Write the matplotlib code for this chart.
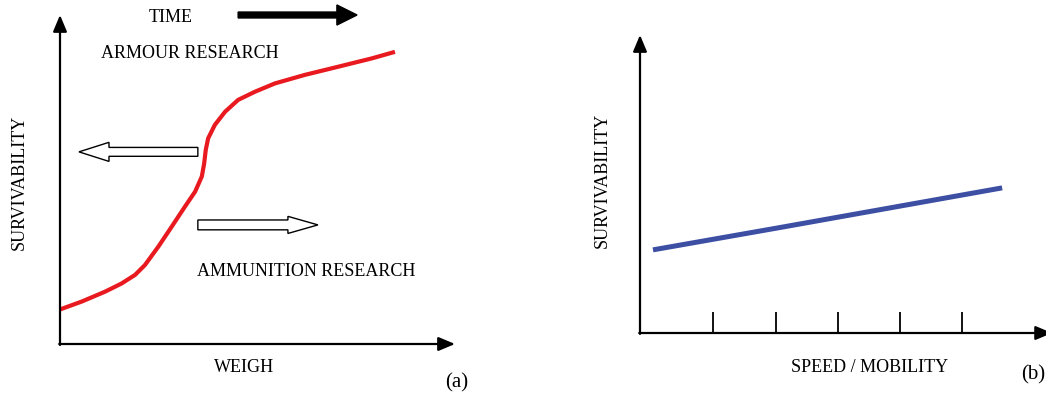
import matplotlib
matplotlib.use("Agg")
import matplotlib.pyplot as plt
from matplotlib.patches import FancyArrow

plt.rcParams["font.family"] = ["Liberation Serif", "DejaVu Serif"]

# panel (a): survivability vs weigh (schematic, 0..100 units)
weigh = [0, 5.5, 11.4, 15.6, 19.0, 21.5, 24.9, 28.3, 31.6, 34.2, 35.9, 36.5, 36.9,
         37.5, 39.2, 41.8, 45.1, 49.4, 54.4, 62.0, 70.5, 78.9, 84.8]
surv_a = [10.5, 12.9, 15.9, 18.4, 21.0, 24.0, 29.6, 35.7, 41.7, 46.3, 50.9, 54.9, 59.0,
          62.5, 66.6, 70.6, 74.2, 76.7, 79.2, 81.8, 84.3, 86.8, 88.8]

# panel (b): survivability vs speed / mobility
speed = [3.2, 34.5, 89.2]
surv_b = [27.9, 35.4, 48.7]
speed_ticks = [18.0, 33.5, 48.8, 64.0, 79.3]

W, H = 1046, 394
fig = plt.figure(figsize=(W / 100, H / 100), dpi=100)


def px(x, y):
    return x / W, 1 - y / H


def make_axes(left, top, right, bottom):
    ax = fig.add_axes([left / W, 1 - bottom / H, (right - left) / W, (bottom - top) / H])
    ax.set_xlim(0, 100)
    ax.set_ylim(0, 100)
    ax.axis("off")
    return ax


def axis_arrows(ax, xtip, ytip):
    style = "-|>,head_length=1.0,head_width=0.42"
    kw = dict(arrowstyle=style, lw=1.6, color="black", shrinkA=0, shrinkB=0)
    ax.annotate("", xy=(0, ytip), xytext=(0, -0.3), arrowprops=kw, annotation_clip=False)
    ax.annotate("", xy=(xtip, 0), xytext=(-0.2, 0), arrowprops=kw, annotation_clip=False)


# ---------------- panel (a) ----------------
axa = make_axes(60, 15, 455, 344)
axis_arrows(axa, 100, 100)
axa.plot(weigh, surv_a, color="#e8191f", lw=3.0, solid_capstyle="butt", solid_joinstyle="round")

# time arrow (black, filled)
axa.add_patch(FancyArrow(45.1, 100, 25.0, 0, width=1.8, head_width=6.1, head_length=5.1,
                         length_includes_head=False, color="black", clip_on=False))
# hollow arrows
axa.add_patch(FancyArrow(34.9, 58.4, -30.1, 0, width=2.7, head_width=5.8, head_length=7.6,
                         length_includes_head=True, facecolor="white", edgecolor="black",
                         lw=1.0, clip_on=False))
axa.add_patch(FancyArrow(34.9, 36.2, 30.4, 0, width=3.0, head_width=5.2, head_length=7.6,
                         length_includes_head=True, facecolor="white", edgecolor="black",
                         lw=1.0, clip_on=False))

fs = 13
fig.text(*px(171, 18), "TIME", fontsize=fs, ha="center", va="center")
fig.text(*px(190, 53), "ARMOUR RESEARCH", fontsize=fs, ha="center", va="center")
fig.text(*px(306, 271), "AMMUNITION RESEARCH", fontsize=fs, ha="center", va="center")
fig.text(*px(244, 367), "WEIGH", fontsize=fs, ha="center", va="center")
fig.text(*px(19, 182), "SURVIVABILITY", fontsize=fs, ha="center", va="center", rotation=90)
fig.text(*px(457, 383), "(a)", fontsize=15, ha="center", va="center")

# ---------------- panel (b) ----------------
axb = make_axes(640, 35, 1046, 333)
axis_arrows(axb, 101.5, 100)
axb.vlines(speed_ticks, 0, 7, color="black", lw=1.3)
axb.plot(speed, surv_b, color="#3c4fa3", lw=3.6, solid_capstyle="butt")

fig.text(*px(870, 367), "SPEED / MOBILITY", fontsize=fs, ha="center", va="center")
fig.text(*px(602, 180), "SURVIVABILITY", fontsize=fs, ha="center", va="center", rotation=90)
fig.text(*px(1033, 375), "(b)", fontsize=15, ha="center", va="center")

fig.savefig("out.png", dpi=100, facecolor="white")
